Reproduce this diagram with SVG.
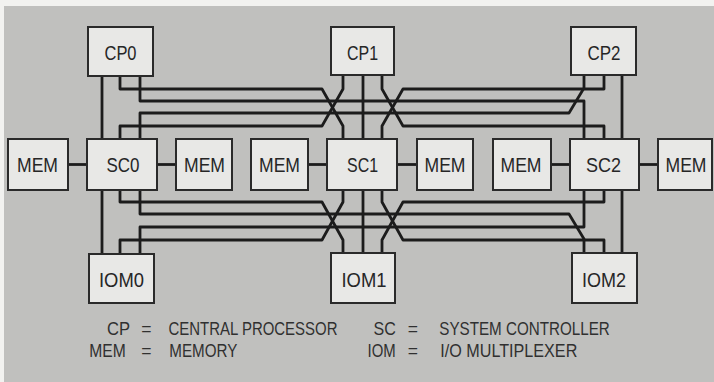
<svg xmlns="http://www.w3.org/2000/svg" width="714" height="382" viewBox="0 0 714 382">
<style>
.box{fill:#e8e8e6;stroke:#2a2a2a;stroke-width:2}
.lbl{font-family:"Liberation Sans",Arial,sans-serif;font-size:21px;fill:#262626;text-anchor:middle}
.leg{font-family:"Liberation Sans",Arial,sans-serif;font-size:17.5px;fill:#303030}
.eq{text-anchor:middle}
#connectors path{fill:none;stroke:#1c1c1c;stroke-width:2.8;stroke-linejoin:round}
</style>
<rect x="0" y="0" width="714" height="382" fill="#f2f2f0"/>
<rect x="4" y="6" width="710" height="376" fill="#c0c0be"/>

<g id="connectors">
  <!-- upper bus -->
  <path d="M102,76 V139"/>
  <path d="M120,76 V89 H322 L343,126 V139"/>
  <path d="M140,76 V101 H584 V139"/>
  <path d="M120,139 V126 H322 L343,89 V75"/>
  <path d="M140,139 V113 H569 L584,88 V75"/>
  <path d="M363,75 V139"/>
  <path d="M382,75 V89 L403,126 H604 V139"/>
  <path d="M604,75 V89 H403 L382,126 V139"/>
  <path d="M622,75 V139"/>
  <!-- lower bus -->
  <path d="M102,190 V253"/>
  <path d="M120,190 V202 H322 L343,240 V253"/>
  <path d="M140,190 V214 H569 L584,239 V253"/>
  <path d="M120,253 V240 H322 L343,202 V190"/>
  <path d="M140,253 V227 H584 V190"/>
  <path d="M363,190 V253"/>
  <path d="M382,190 V202 L403,240 H604 V253"/>
  <path d="M604,190 V202 H403 L382,240 V253"/>
  <path d="M622,190 V253"/>
  <!-- memory links -->
  <path d="M68,164.5 H87"/>
  <path d="M157,164.5 H176"/>
  <path d="M308,164.5 H327"/>
  <path d="M397,164.5 H417"/>
  <path d="M551,164.5 H570"/>
  <path d="M639,164.5 H658"/>
</g>

<g id="cp0"><rect class="box" x="88" y="27" width="65" height="49"/><text class="lbl" x="120.5" y="60" textLength="32" lengthAdjust="spacingAndGlyphs">CP0</text></g>
<g id="cp1"><rect class="box" x="331" y="27" width="63" height="48"/><text class="lbl" x="362.5" y="60" textLength="31" lengthAdjust="spacingAndGlyphs">CP1</text></g>
<g id="cp2"><rect class="box" x="571" y="27" width="65" height="48"/><text class="lbl" x="604" y="60" textLength="33" lengthAdjust="spacingAndGlyphs">CP2</text></g>

<g id="mem0"><rect class="box" x="8" y="139" width="60" height="51"/><text class="lbl" x="37.5" y="172" textLength="41" lengthAdjust="spacingAndGlyphs">MEM</text></g>
<g id="sc0"><rect class="box" x="87" y="139" width="70" height="51"/><text class="lbl" x="123" y="172" textLength="33" lengthAdjust="spacingAndGlyphs">SC0</text></g>
<g id="mem1"><rect class="box" x="176" y="139" width="56" height="51"/><text class="lbl" x="204.5" y="172" textLength="41" lengthAdjust="spacingAndGlyphs">MEM</text></g>
<g id="mem2"><rect class="box" x="251" y="139" width="57" height="51"/><text class="lbl" x="279.5" y="172" textLength="41" lengthAdjust="spacingAndGlyphs">MEM</text></g>
<g id="sc1"><rect class="box" x="327" y="139" width="70" height="51"/><text class="lbl" x="362.5" y="172" textLength="31" lengthAdjust="spacingAndGlyphs">SC1</text></g>
<g id="mem3"><rect class="box" x="417" y="139" width="56" height="51"/><text class="lbl" x="445" y="172" textLength="41" lengthAdjust="spacingAndGlyphs">MEM</text></g>
<g id="mem4"><rect class="box" x="493" y="139" width="58" height="51"/><text class="lbl" x="521" y="172" textLength="41" lengthAdjust="spacingAndGlyphs">MEM</text></g>
<g id="sc2"><rect class="box" x="570" y="139" width="69" height="51"/><text class="lbl" x="603.5" y="172" textLength="35" lengthAdjust="spacingAndGlyphs">SC2</text></g>
<g id="mem5"><rect class="box" x="658" y="139" width="54" height="51"/><text class="lbl" x="686" y="172" textLength="41" lengthAdjust="spacingAndGlyphs">MEM</text></g>

<g id="iom0"><rect class="box" x="89" y="254" width="65" height="49"/><text class="lbl" x="121.5" y="286.5" textLength="45" lengthAdjust="spacingAndGlyphs">IOM0</text></g>
<g id="iom1"><rect class="box" x="331" y="253" width="64" height="50"/><text class="lbl" x="364" y="286.5" textLength="45" lengthAdjust="spacingAndGlyphs">IOM1</text></g>
<g id="iom2"><rect class="box" x="572" y="253" width="65" height="50"/><text class="lbl" x="604" y="286.5" textLength="44" lengthAdjust="spacingAndGlyphs">IOM2</text></g>

<g id="legend">
  <text class="leg" x="107" y="334.5" textLength="23" lengthAdjust="spacingAndGlyphs">CP</text>
  <text class="leg eq" x="146.3" y="334.5">=</text>
  <text class="leg" x="168.5" y="334.5" textLength="169" lengthAdjust="spacingAndGlyphs">CENTRAL PROCESSOR</text>
  <text class="leg" x="89.3" y="357" textLength="36.5" lengthAdjust="spacingAndGlyphs">MEM</text>
  <text class="leg eq" x="146.3" y="357">=</text>
  <text class="leg" x="169.3" y="357" textLength="68" lengthAdjust="spacingAndGlyphs">MEMORY</text>
  <text class="leg" x="373.5" y="334.5" textLength="22.3" lengthAdjust="spacingAndGlyphs">SC</text>
  <text class="leg eq" x="412.8" y="334.5">=</text>
  <text class="leg" x="439.3" y="334.5" textLength="170.5" lengthAdjust="spacingAndGlyphs">SYSTEM CONTROLLER</text>
  <text class="leg" x="367.5" y="357" textLength="28.2" lengthAdjust="spacingAndGlyphs">IOM</text>
  <text class="leg eq" x="412.8" y="357">=</text>
  <text class="leg" x="440.3" y="357" textLength="137" lengthAdjust="spacingAndGlyphs">I/O MULTIPLEXER</text>
</g>
</svg>
